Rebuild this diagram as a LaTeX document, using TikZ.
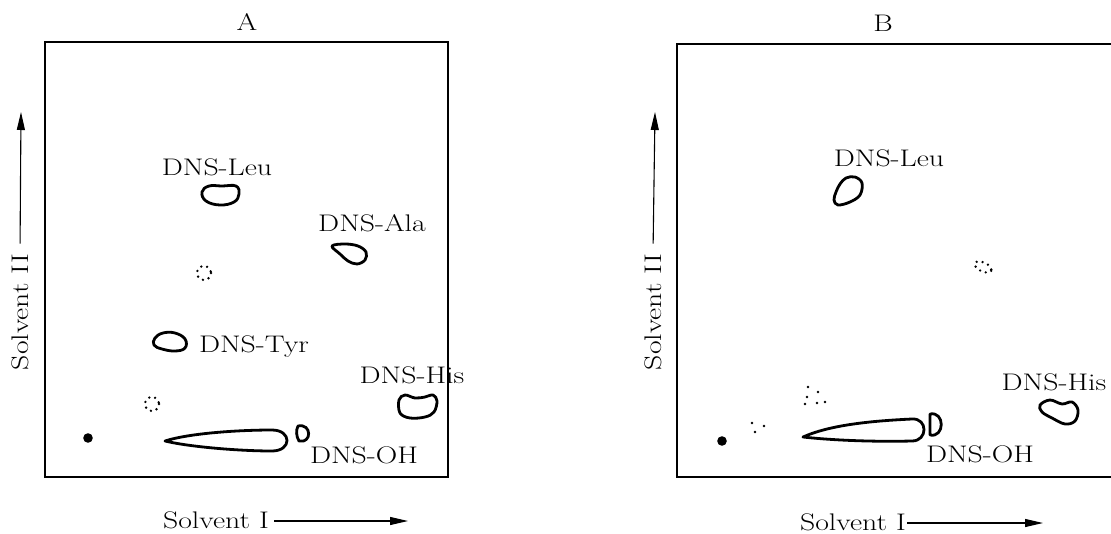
\documentclass[tikz,border=0pt]{standalone}
\usepackage{fontspec}
\usetikzlibrary{arrows.meta}
\newcommand\wtxt[1]{\scalebox{1.24}[1]{#1}}
\tikzset{
  lbl/.style={font=\fontsize{24}{28}\selectfont, inner sep=0pt},
  frame/.style={line width=1.6pt},
  spot/.style={line width=2.8pt, line join=round},
  dotring/.style={line width=2.6pt, line cap=round, dash pattern=on 0pt off 6pt},
  axarrow/.style={line width=1.1pt, -{Triangle[length=18pt,width=8pt]}},
}
\begin{document}
\begin{tikzpicture}[x=1pt,y=-1pt]
\useasboundingbox (0,0) rectangle (1111,533);
% ---------------- Panel A ----------------
\node[lbl, anchor=base] (ta) at (247,30) {\wtxt{A}};
\draw[frame] (45,42) rectangle (448,477);
\node[lbl, rotate=90] (s2a) at (20,312) {\wtxt{Solvent II}};
\coordinate (s2atip) at (21,112);
\draw[axarrow, shorten <=10pt] (s2a.east) -- (s2atip);
\node[lbl, anchor=base] (s1a) at (216,528) {\wtxt{Solvent I}};
\coordinate (s1atip) at (408,521);
\draw[axarrow, shorten <=5pt] (s1a.east |- s1atip) -- (s1atip);
% labels
\node[lbl, anchor=base] (leua) at (217,175) {\wtxt{DNS-Leu}};
\node[lbl, anchor=base] (alaa) at (372,231) {\wtxt{DNS-Ala}};
\node[lbl, anchor=base] (tyra) at (254,352) {\wtxt{DNS-Tyr}};
\node[lbl, anchor=base] (hisa) at (412,383) {\wtxt{DNS-His}};
\node[lbl, anchor=base] (oha) at (364,463) {\wtxt{DNS-OH}};
% spots
\draw[spot] plot[smooth cycle, tension=0.7] coordinates {(202,192) (209,186) (222,186) (236,186) (239,194) (234,202) (220,205) (206,201)};
\draw[spot] plot[smooth cycle, tension=0.6] coordinates {(332,246) (345,244) (358,246) (366,252) (365,260) (357,264) (348,261) (340,254)};
\draw[spot] plot[smooth cycle, tension=0.7] coordinates {(155,338) (163,333) (175,333) (185,339) (185,348) (175,351) (162,349) (154,345)};
\draw[spot] plot[smooth cycle, tension=0.6] coordinates {(399,400) (405,395) (415,398) (425,397) (433,395) (437,401) (434,412) (425,417) (410,418) (400,413)};
\draw[spot] (298,426) .. controls (312,423) and (312,444) .. (299,441) .. controls (296,436) and (296,430) .. (298,426) -- cycle;
\draw[spot] (165,441) .. controls (190,433) and (240,430) .. (272,430) .. controls (292,430) and (292,451) .. (272,451) .. controls (240,451) and (190,447) .. (165,441) -- cycle;
\draw[dotring] (204,273) circle (7);
\draw[dotring] (152,404) circle (7);
\fill (88,438) circle (4.8);
% ---------------- Panel B ----------------
\node[lbl, anchor=base] (tb) at (883,31) {\wtxt{B}};
\draw[frame] (1111,44) -- (677,44) -- (677,477) -- (1111,477);
\node[lbl, rotate=90] (s2b) at (653,312) {\wtxt{Solvent II}};
\coordinate (s2btip) at (655,112);
\draw[axarrow, shorten <=10pt] (s2b.east) -- (s2btip);
\node[lbl, anchor=base] (s1b) at (853,530) {\wtxt{Solvent I}};
\coordinate (s1btip) at (1043,523);
\draw[axarrow, shorten <=1pt] (s1b.east |- s1btip) -- (s1btip);
% labels
\node[lbl, anchor=base] (leub) at (889,166) {\wtxt{DNS-Leu}};
\node[lbl, anchor=base] (hisb) at (1054,390) {\wtxt{DNS-His}};
\node[lbl, anchor=base] (ohb) at (980,462) {\wtxt{DNS-OH}};
% spots
\draw[spot] plot[smooth cycle, tension=0.6] coordinates {(840,184) (846,178) (855,177) (862,183) (860,195) (850,202) (838,205) (834,200) (836,192)};
\draw[spot] plot[smooth cycle, tension=0.6] coordinates {(1040,405) (1050,400) (1062,404) (1072,402) (1078,410) (1075,421) (1065,424) (1052,418) (1042,412)};
\draw[spot] (930,414) .. controls (945,411) and (945,438) .. (930,435) -- cycle;
\draw[spot] (803,437) .. controls (830,425) and (870,421) .. (912,419) .. controls (928,418) and (928,441) .. (912,441) .. controls (870,442) and (830,440) .. (803,437) -- cycle;
\draw[dotring, rotate around={-25:(983,267)}] (983,267) ellipse (9 and 4.5);
\foreach \p in {(808,387),(818,392),(807,397),(805,404),(817,403),(825,402),(752,423),(755,432),(764,426)}
  \fill \p circle (1.4);
\fill (722,441) circle (4.8);
\end{tikzpicture}
\end{document}
